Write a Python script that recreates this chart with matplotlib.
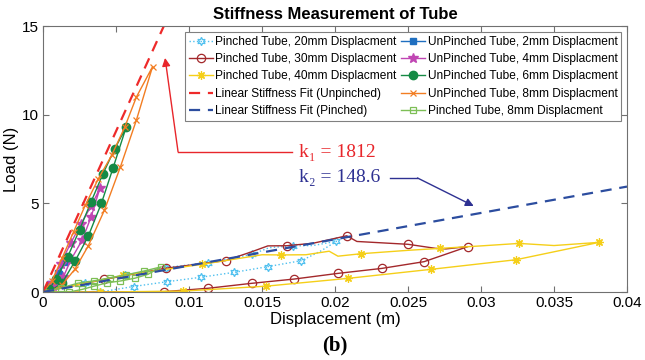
import matplotlib
matplotlib.use("Agg")
import matplotlib.pyplot as plt
import numpy as np

plt.rcParams['font.family'] = ['Liberation Sans', 'DejaVu Sans']

# stiffness fits
k_unpinched = 1812
k_pinched = 148.6
fit_unp_x = [0.0, 0.0086]
fit_pin_x = [0.0, 0.04]

# pinched tube loops (load then unload)
p20_x = [0, 0.0029, 0.0056, 0.0084, 0.0113, 0.0143, 0.0155, 0.0171, 0.0185, 0.0201,
         0.0190, 0.0177, 0.0154, 0.0131, 0.0108, 0.0085, 0.0062, 0.0039, 0]
p20_y = [0, 0.53, 0.95, 1.38, 1.65, 2.12, 2.5, 2.6, 2.62, 2.86,
         2.3, 1.77, 1.43, 1.11, 0.83, 0.58, 0.31, 0.0, 0]

p30_x = [0, 0.0042, 0.0084, 0.0125, 0.0143, 0.0154, 0.0167, 0.0185, 0.0208, 0.0215,
         0.0250, 0.0269, 0.0276, 0.0291, 0.0261, 0.0232, 0.0202, 0.0172, 0.0143, 0.0113,
         0.0083, 0]
p30_y = [0, 0.71, 1.34, 1.77, 2.27, 2.6, 2.61, 2.75, 3.17, 2.85,
         2.69, 2.46, 2.43, 2.56, 1.71, 1.33, 1.05, 0.73, 0.49, 0.21,
         0.02, 0]

p40_x = [0, 0.0055, 0.0109, 0.0150, 0.0163, 0.0180, 0.0196, 0.0202, 0.0218, 0.0250,
         0.0272, 0.0300, 0.0326, 0.0350, 0.0381, 0.0324, 0.0266, 0.0209, 0.0153, 0.0096,
         0.0039, 0]
p40_y = [0, 0.95, 1.56, 2.1, 2.09, 2.1, 2.3, 2.02, 2.16, 2.35,
         2.46, 2.6, 2.74, 2.62, 2.8, 1.82, 1.28, 0.77, 0.33, 0.05,
         0.0, 0]

p8_x = [0, 0.0012, 0.0024, 0.0035, 0.0046, 0.0057, 0.0069, 0.0081,
        0.0072, 0.0063, 0.0053, 0.0044, 0.0035, 0.0027, 0.0018, 0]
p8_y = [0, 0.22, 0.5, 0.63, 0.8, 0.97, 1.18, 1.42,
        1.0, 0.78, 0.62, 0.52, 0.33, 0.15, 0.0, 0]

# unpinched tube loops
u2_x = [0, 0.0005, 0.0010, 0.0015, 0.0011, 0.0006, 0.0002]
u2_y = [0, 0.45, 1.05, 1.7, 1.0, 0.4, 0]

u4_x = [0, 0.0006, 0.0012, 0.0019, 0.0026, 0.0033, 0.0039,
        0.0033, 0.0027, 0.0019, 0.0014, 0.0007, 0.0002]
u4_y = [0, 0.5, 1.6, 2.75, 3.85, 4.85, 5.85,
        4.25, 2.95, 1.8, 0.86, 0.36, 0]

u6_x = [0, 0.0004, 0.0009, 0.0017, 0.0025, 0.0033, 0.0041, 0.0049, 0.0057,
        0.0048, 0.0040, 0.0031, 0.0022, 0.0013, 0.0004]
u6_y = [0, 0.15, 0.73, 2.0, 3.5, 5.1, 6.65, 8.05, 9.3,
        7.0, 5.0, 3.15, 1.75, 0.5, 0]

u8_x = [0, 0.0006, 0.0013, 0.0021, 0.0029, 0.0038, 0.0047, 0.0056, 0.0064, 0.0075,
        0.0064, 0.0053, 0.0042, 0.0031, 0.0022, 0.0013, 0.0005]
u8_y = [0, 0.6, 1.9, 3.4, 4.9, 6.4, 7.7, 9.3, 11.0, 12.7,
        9.7, 7.05, 4.6, 2.6, 1.3, 0.4, 0]

xticks = [0, 0.005, 0.01, 0.015, 0.02, 0.025, 0.03, 0.035, 0.04]
xtick_labels = ['0', '0.005', '0.01', '0.015', '0.02', '0.025', '0.03', '0.035', '0.04']
yticks = [0, 5, 10, 15]

fig = plt.figure(figsize=(6.45, 3.6), dpi=100)
ax = fig.add_axes([43/645, 1 - 292/360, 584/645, 266/360])

hexagram = (6, 1, 0)
asterisk = (8, 2, 0)

h = {}
h['p20'], = ax.plot(p20_x, p20_y, ':', color='#4fc0ef', lw=1.0, marker=hexagram, ms=6,
                    mfc='none', mec='#4fc0ef', mew=0.9,
                    markevery=[0, 1, 2, 3, 4, 5, 7, 9, 11, 12, 13, 14, 15, 16, 17],
                    label='Pinched Tube, 20mm Displacment')
h['p30'], = ax.plot(p30_x, p30_y, '-', color='#a3282b', lw=1.0, marker='o', ms=6,
                    mfc='none', mew=0.9,
                    markevery=[0, 1, 2, 3, 6, 8, 10, 13, 14, 15, 16, 17, 18, 19, 20],
                    label='Pinched Tube, 30mm Displacment')
h['p40'], = ax.plot(p40_x, p40_y, '-', color='#f5cf19', lw=1.0, marker=asterisk, ms=6,
                    mew=0.9,
                    markevery=[0, 1, 2, 4, 8, 10, 12, 14, 15, 16, 17, 18, 19, 20],
                    label='Pinched Tube, 40mm Displacment')
h['u2'], = ax.plot(u2_x, u2_y, '-', color='#1f6fc0', lw=1.0, marker='s', ms=4,
                   label='UnPinched Tube, 2mm Displacment')
h['u4'], = ax.plot(u4_x, u4_y, '-', color='#c046b3', lw=1.0, marker='*', ms=7,
                   label='UnPinched Tube, 4mm Displacment')
h['u6'], = ax.plot(u6_x, u6_y, '-', color='#158a45', lw=1.0, marker='o', ms=6,
                   label='UnPinched Tube, 6mm Displacment')
h['u8'], = ax.plot(u8_x, u8_y, '-', color='#f27d22', lw=1.0, marker='x', ms=4, mew=0.9,
                   label='UnPinched Tube, 8mm Displacment')
h['p8'], = ax.plot(p8_x, p8_y, '-', color='#7dbf56', lw=1.0, marker='s', ms=5,
                   mfc='none', mew=0.9, markevery=list(range(15)),
                   label='Pinched Tube, 8mm Displacment')

fx = np.array(fit_unp_x)
h['fu'], = ax.plot(fx, k_unpinched * fx, '--', color='#ee2a2a', lw=1.6, dashes=(5, 3.5),
                   label='Linear Stiffness Fit (Unpinched)')
fx = np.array(fit_pin_x)
h['fp'], = ax.plot(fx, k_pinched * fx, '--', color='#2c4d9f', lw=1.6, dashes=(5, 3.5),
                   label='Linear Stiffness Fit (Pinched)')

ax.set_xlim(0, 0.04)
ax.set_ylim(0, 15)
ax.set_xticks(xticks)
ax.set_xticklabels(xtick_labels)
ax.set_yticks(yticks)
ax.tick_params(direction='in', top=True, right=True, length=4, width=0.8,
               color='#707070', labelsize=11, pad=3)
for s in ax.spines.values():
    s.set_color('#707070')
    s.set_linewidth(0.8)

ax.set_title('Stiffness Measurement of Tube', fontsize=12, fontweight='bold', pad=5)
ax.set_xlabel('Displacement (m)', fontsize=12, labelpad=1)
ax.set_ylabel('Load (N)', fontsize=12, labelpad=2)

order = ['p20', 'p30', 'p40', 'fu', 'fp', 'u2', 'u4', 'u6', 'u8', 'p8']
leg = ax.legend([h[k] for k in order], [h[k].get_label() for k in order], ncol=2,
                loc='upper right', bbox_to_anchor=(0.99, 0.977), fontsize=8.6,
                fancybox=False, framealpha=1, edgecolor='#808080', borderpad=0.3,
                labelspacing=0.45, handlelength=2.0, handletextpad=0.2,
                columnspacing=0.4, borderaxespad=0)
leg.get_frame().set_linewidth(0.8)

# k1 annotation (red)
red = '#e8262b'
ax.text(0.01755, 7.84, 'k\u2081 = 1812', color=red, fontsize=14,
        family=['Liberation Serif', 'DejaVu Serif'], ha='left', va='center')
ax.plot([0.01705, 0.00925], [7.91, 7.91], color=red, lw=1.0)
ax.annotate('', xy=(0.00836, 13.2), xytext=(0.00925, 7.91),
            arrowprops=dict(arrowstyle='-|>', color=red, lw=1.0,
                            mutation_scale=12, shrinkA=0, shrinkB=0))

# k2 annotation (blue)
blue = '#2e3192'
ax.text(0.01755, 6.43, 'k\u2082 = 148.6', color=blue, fontsize=14,
        family=['Liberation Serif', 'DejaVu Serif'], ha='left', va='center')
ax.plot([0.02375, 0.02565], [6.43, 6.43], color=blue, lw=1.0)
ax.annotate('', xy=(0.0295, 4.85), xytext=(0.02565, 6.43),
            arrowprops=dict(arrowstyle='-|>', color=blue, lw=1.0,
                            mutation_scale=12, shrinkA=0, shrinkB=0))

fig.text(335/645, 1 - 345/360, '(b)', fontsize=15, fontweight='bold',
         family=['Liberation Serif', 'DejaVu Serif'], ha='center', va='center')

fig.savefig('out.png', dpi=100)
